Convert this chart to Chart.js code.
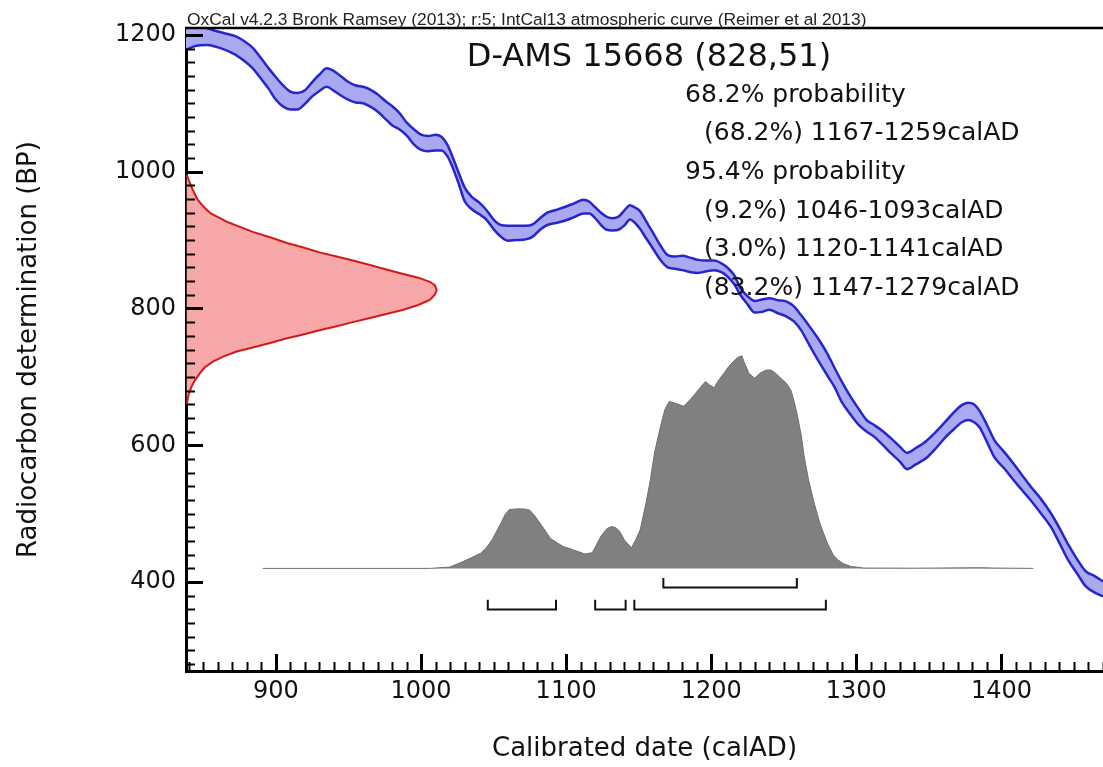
<!DOCTYPE html>
<html><head><meta charset="utf-8">
<script src="https://cdn.jsdelivr.net/npm/chart.js@4.4.0/dist/chart.umd.min.js"></script>
<style>html,body{margin:0;padding:0;background:#fff;}#wrap{width:1103px;height:767px;position:relative;}</style>
</head><body><div id="wrap"><canvas id="c" width="1103" height="767"></canvas></div>
<script>
// ---------- data ----------
const calYears = [838,845,852,858,865,872,878,884,890,895,900,905,910,915,920,925,930,935,940,945,950,955,960,965,970,975,980,985,990,995,1000,1005,1010,1014,1018,1022,1026,1030,1035,1040,1045,1050,1055,1060,1066,1072,1077,1082,1087,1093,1100,1106,1112,1116,1120,1124,1128,1132,1136,1140,1144,1147,1151,1155,1160,1165,1170,1175,1180,1186,1191,1196,1202,1207,1211,1216,1220,1225,1230,1235,1240,1246,1252,1257,1262,1268,1274,1280,1285,1290,1296,1302,1307,1312,1318,1324,1330,1335,1341,1348,1355,1362,1368,1373,1377,1381,1385,1390,1395,1402,1408,1414,1420,1427,1434,1440,1446,1452,1458,1464,1470];
const calUpper = [1213,1213,1210,1206,1202,1198,1191,1181,1165,1151,1138,1126,1117,1115,1119,1131,1142,1151,1147,1139,1131,1126,1124,1120,1113,1104,1096,1086,1072,1062,1054,1052,1054,1051,1040,1020,998,977,963,955,944,930,922,921,921,921,923,932,940,944,949,954,959,956,948,940,934,932,934,943,951,948,942,928,910,892,878,876,877,874,871,870,870,866,860,848,830,818,811,813,815,812,810,803,790,773,755,734,713,693,671,652,637,630,621,610,598,589,596,606,620,636,650,659,662,660,650,630,608,590,574,557,540,522,501,479,455,434,416,409,401];
const calLower = [1178,1184,1185,1183,1178,1171,1162,1151,1135,1121,1105,1095,1091,1091,1099,1110,1118,1124,1118,1111,1105,1101,1100,1095,1088,1078,1068,1062,1053,1040,1032,1030,1031,1031,1023,1005,982,957,945,938,930,916,905,899,900,901,905,915,922,925,929,934,939,939,932,922,915,914,915,921,930,926,916,903,887,871,860,858,856,853,852,854,856,853,847,835,820,806,794,795,798,793,788,781,768,745,723,702,685,663,645,629,620,613,601,588,576,565,572,581,596,613,625,634,637,634,626,605,583,566,550,535,520,501,481,457,432,413,394,385,379];

// radiocarbon measurement (828 ± 51 BP) outline: calendar-axis extent vs BP
const c14Years = [838.5,839.5,840.7,843,846,850,855,861.4,867,872.9,884,895.9,907,918.8,930,941.8,953,964.8,976,987.8,998,1006,1009.5,1010.8,1009.5,1006,998,987.8,976,964.8,953,941.8,930,918.8,907,895.9,884,872.9,864,856.8,851,847.6,844.5,841.8,839.8,838.5];
const c14BP    = [995,990,983,972,959,949,939,932,926,921,912,904,896,889,882,876,870,863.5,857,850.5,845,839,834,827,820,812.6,805,798,792,786,780,774,768,762,756,749.5,743,737,730,722.5,714,705.5,696,686,674,660];

// calibrated probability distribution (drawn above a baseline)
const distBaseline = 420;
const distYears = [891,1006,1020,1029,1035,1041,1045,1049,1052,1055,1058,1061,1066,1071,1075,1079,1082,1086,1089,1094,1098,1105,1113,1118,1121,1124,1128,1131,1134,1137,1140,1142,1145,1148,1151,1155,1158,1161,1165,1168,1171,1176,1181,1186,1190,1193,1196,1199,1202,1205,1209,1212,1215,1218,1221,1223,1226,1230,1234,1238,1241,1244,1248,1252,1255,1257,1259,1262,1264,1267,1271,1275,1280,1284,1287,1291,1296,1305,1340,1375,1385,1395,1422];
const distBP    = [420,420,422,430,436,442,450,462,474,486,499,506,507,507,505,495,486,474,464,457,452,447,441,443,455,467,478,481,480,474,462,457,450,462,476,515,549,590,627,652,664,661,657,668,678,686,693,688,684,695,706,715,722,728,731,720,705,698,706,710,710,706,698,690,680,665,647,615,584,550,515,485,457,440,433,427,423,420.5,420.3,420.8,421,420.5,420];

// highest probability ranges
const ranges68 = [[1167,1259]];
const ranges95 = [[1046,1093],[1120,1141],[1147,1279]];
const level68 = 392, top68 = 406;
const level95 = 360, top95 = 374;

// axes
const xMin = 838, xMax = 1470, yMin = 270, yMax = 1210;
const xTickValues = [900,1000,1100,1200,1300,1400];
const yTickValues = [400,600,800,1000,1200];
const xMinorStep = 10, yMinorStep = 20;

// texts
const headerText = 'OxCal v4.2.3 Bronk Ramsey (2013); r:5; IntCal13 atmospheric curve (Reimer et al 2013)';
const titleText = 'D-AMS 15668 (828,51)';
const resultLines = [
  ['68.2% probability', 0],
  ['(68.2%) 1167-1259calAD', 1],
  ['95.4% probability', 0],
  ['(9.2%) 1046-1093calAD', 1],
  ['(3.0%) 1120-1141calAD', 1],
  ['(83.2%) 1147-1279calAD', 1]
];
const xTitle = 'Calibrated date (calAD)';
const yTitle = 'Radiocarbon determination (BP)';

// ---------- build ----------
const FONT = 'DejaVu Sans';
const zip = (xs, ys) => xs.map((x, i) => ({x, y: ys[i]}));
function brackets(ranges, level, top) {
  const out = [];
  ranges.forEach(([a, b]) => {
    out.push({x:a,y:top},{x:a,y:level},{x:b,y:level},{x:b,y:top},{x:b,y:null});
  });
  return out;
}

const decor = {
  id: 'decor',
  afterDraw(chart) {
    const ctx = chart.ctx, xs = chart.scales.x, ys = chart.scales.y, a = chart.chartArea;
    ctx.save();
    ctx.strokeStyle = '#000';
    // top frame line
    ctx.lineWidth = 2.5;
    ctx.beginPath(); ctx.moveTo(a.left - 1, a.top); ctx.lineTo(a.right, a.top); ctx.stroke();
    // x ticks (inside)
    for (let v = Math.ceil(xMin / xMinorStep) * xMinorStep; v <= xMax; v += xMinorStep) {
      const px = Math.round(xs.getPixelForValue(v)) + 0.5;
      const major = v % 100 === 0;
      ctx.lineWidth = major ? 3 : 2;
      ctx.beginPath(); ctx.moveTo(px, a.bottom); ctx.lineTo(px, a.bottom - (major ? 17 : 9)); ctx.stroke();
    }
    // y ticks (inside)
    for (let v = Math.ceil(yMin / yMinorStep) * yMinorStep; v <= yMax; v += yMinorStep) {
      const py = Math.round(ys.getPixelForValue(v)) + 0.5;
      const major = v % 200 === 0;
      ctx.lineWidth = major ? 3 : 2;
      ctx.beginPath(); ctx.moveTo(a.left, py); ctx.lineTo(a.left + (major ? 17 : 9), py); ctx.stroke();
    }
    // header
    ctx.fillStyle = '#222';
    ctx.textBaseline = 'alphabetic';
    ctx.textAlign = 'left';
    let hs = 16;
    ctx.font = hs + 'px "Liberation Sans"';
    const w = ctx.measureText(headerText).width;
    hs = hs * 680 / w;
    ctx.font = hs.toFixed(2) + 'px "Liberation Sans"';
    ctx.fillText(headerText, a.left + 1, a.top - 3);
    // title
    ctx.fillStyle = '#111';
    ctx.font = '32px "' + FONT + '"';
    ctx.textAlign = 'center';
    ctx.fillText(titleText, 649, 66);
    // results
    ctx.font = '25px "' + FONT + '"';
    ctx.textAlign = 'left';
    resultLines.forEach(([t, indent], i) => {
      ctx.fillText(t, indent ? 704 : 685, 101.5 + i * 38.7);
    });
    ctx.restore();
  }
};

const plainTick = v => String(v);

new Chart(document.getElementById('c'), {
  type: 'line',
  data: {
    datasets: [
      { label: 'upper', data: zip(calYears, calUpper), borderColor: '#2626cc', borderWidth: 2.5, pointRadius: 0, fill: false, cubicInterpolationMode: 'monotone' },
      { label: 'lower', data: zip(calYears, calLower), borderColor: '#2626cc', borderWidth: 2.5, pointRadius: 0, fill: '-1', backgroundColor: '#a9a9f2', cubicInterpolationMode: 'monotone' },
      { label: 'c14', data: zip(c14Years, c14BP), borderColor: '#d41818', borderWidth: 2, pointRadius: 0, fill: 'shape', backgroundColor: '#f8a8a8', tension: 0 },
      { label: 'dist', data: zip(distYears, distBP), borderColor: '#6e6e6e', borderWidth: 1, pointRadius: 0, fill: {value: distBaseline}, backgroundColor: '#808080', tension: 0 },
      { label: 'r68', data: brackets(ranges68, level68, top68), borderColor: '#111', borderWidth: 2, pointRadius: 0, fill: false, spanGaps: false },
      { label: 'r95', data: brackets(ranges95, level95, top95), borderColor: '#111', borderWidth: 2, pointRadius: 0, fill: false, spanGaps: false }
    ]
  },
  options: {
    responsive: false, animation: false, devicePixelRatio: 1,
    layout: { padding: { top: 28, left: 0, right: 0, bottom: 0 } },
    plugins: { legend: { display: false }, tooltip: { enabled: false } },
    scales: {
      x: {
        type: 'linear', min: xMin, max: xMax,
        afterBuildTicks: s => { s.ticks = xTickValues.map(v => ({value: v})); },
        afterFit: s => { s.height = 96; },
        grid: { display: false, drawTicks: false },
        border: { display: true, color: '#000', width: 3 },
        ticks: { font: { family: FONT, size: 24 }, color: '#111', padding: 6, maxRotation: 0, autoSkip: false, callback: plainTick },
        title: { display: true, text: xTitle, font: { family: FONT, size: 26 }, color: '#111', padding: { top: 0, bottom: 2 } }
      },
      y: {
        type: 'linear', min: yMin, max: yMax,
        afterBuildTicks: s => { s.ticks = yTickValues.map(v => ({value: v})); },
        afterFit: s => { s.width = 186; },
        grid: { display: false, drawTicks: false },
        border: { display: true, color: '#000', width: 3 },
        ticks: { font: { family: FONT, size: 24 }, color: '#111', padding: 10, autoSkip: false, callback: plainTick },
        title: { display: true, text: yTitle, font: { family: FONT, size: 26 }, color: '#111', padding: { top: 14, bottom: 0 } }
      }
    }
  },
  plugins: [decor]
});
</script></body></html>
